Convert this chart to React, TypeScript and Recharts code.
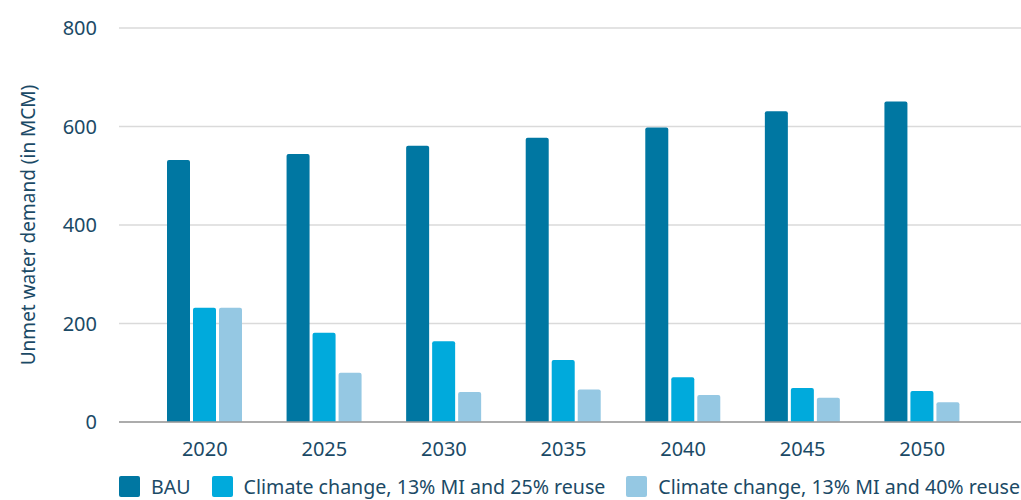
import { BarChart, Bar, XAxis, YAxis, CartesianGrid } from "recharts";

const years = ["2020", "2025", "2030", "2035", "2040", "2045", "2050"];
const bau = [532, 544, 561, 577, 598, 631, 651];
const reuse25 = [232, 181, 164, 126, 91, 69, 63];
const reuse40 = [232, 100, 61, 66, 55, 49, 40];
const yTicks = [0, 200, 400, 600, 800];

const series = [
  { key: "bau", name: "BAU", color: "#0077A2" },
  { key: "reuse25", name: "Climate change, 13% MI and 25% reuse", color: "#00AADC" },
  { key: "reuse40", name: "Climate change, 13% MI and 40% reuse", color: "#95C8E3" },
];

const data = years.map((year, i) => ({
  year,
  bau: bau[i],
  reuse25: reuse25[i],
  reuse40: reuse40[i],
}));

const TEXT = "#1B4A66";
const FONT = "'Noto Sans', sans-serif";

// legend row under the x axis
function LegendRow() {
  return (
    <div
      style={{
        position: "absolute",
        left: 119,
        top: 476,
        display: "flex",
        alignItems: "center",
        whiteSpace: "nowrap",
        fontFamily: FONT,
        fontSize: 19.6,
        lineHeight: "21px",
        color: TEXT,
      }}
    >
      {series.map((s) => (
        <div key={s.key} style={{ display: "flex", alignItems: "center", marginRight: 21 }}>
          <span style={{ width: 21, height: 21, background: s.color, borderRadius: 2, marginRight: 11 }} />
          <span>{s.name}</span>
        </div>
      ))}
    </div>
  );
}

function YLabel({ viewBox }: any) {
  const cx = 28;
  const cy = viewBox.y + viewBox.height / 2;
  return (
    <text
      x={cx}
      y={cy}
      transform={`rotate(-90 ${cx} ${cy})`}
      textAnchor="middle"
      dominantBaseline="central"
      fill={TEXT}
      fontSize={19}
      fontFamily={FONT}
    >
      Unmet water demand (in MCM)
    </text>
  );
}

export default function App() {
  return (
    <div style={{ position: "absolute", left: 0, top: 0, width: 1021, height: 500, background: "#fff" }}>
      <BarChart
        width={1021}
        height={500}
        data={data}
        margin={{ top: 28, right: 0, bottom: 48, left: 0 }}
        barGap={3}
        barSize={23}
      >
        <CartesianGrid vertical={false} stroke="#DADADA" strokeWidth={1.5} />
        <XAxis
          dataKey="year"
          height={30}
          padding={{ left: 26, right: 39 }}
          axisLine={{ stroke: "#9A9A9A", strokeWidth: 1.5 }}
          tickLine={false}
          tickSize={0}
          tickMargin={20}
          tick={{ fill: TEXT, fontSize: 20, fontFamily: FONT }}
        />
        <YAxis
          width={119}
          domain={[0, 800]}
          ticks={yTicks}
          axisLine={false}
          tickLine={false}
          tickSize={0}
          tickMargin={22}
          tick={{ fill: TEXT, fontSize: 20, fontFamily: FONT }}
          label={{ content: YLabel }}
        />
        {series.map((s) => (
          <Bar
            key={s.key}
            dataKey={s.key}
            name={s.name}
            fill={s.color}
            radius={[2, 2, 0, 0]}
            isAnimationActive={false}
          />
        ))}
      </BarChart>
      <LegendRow />
    </div>
  );
}
